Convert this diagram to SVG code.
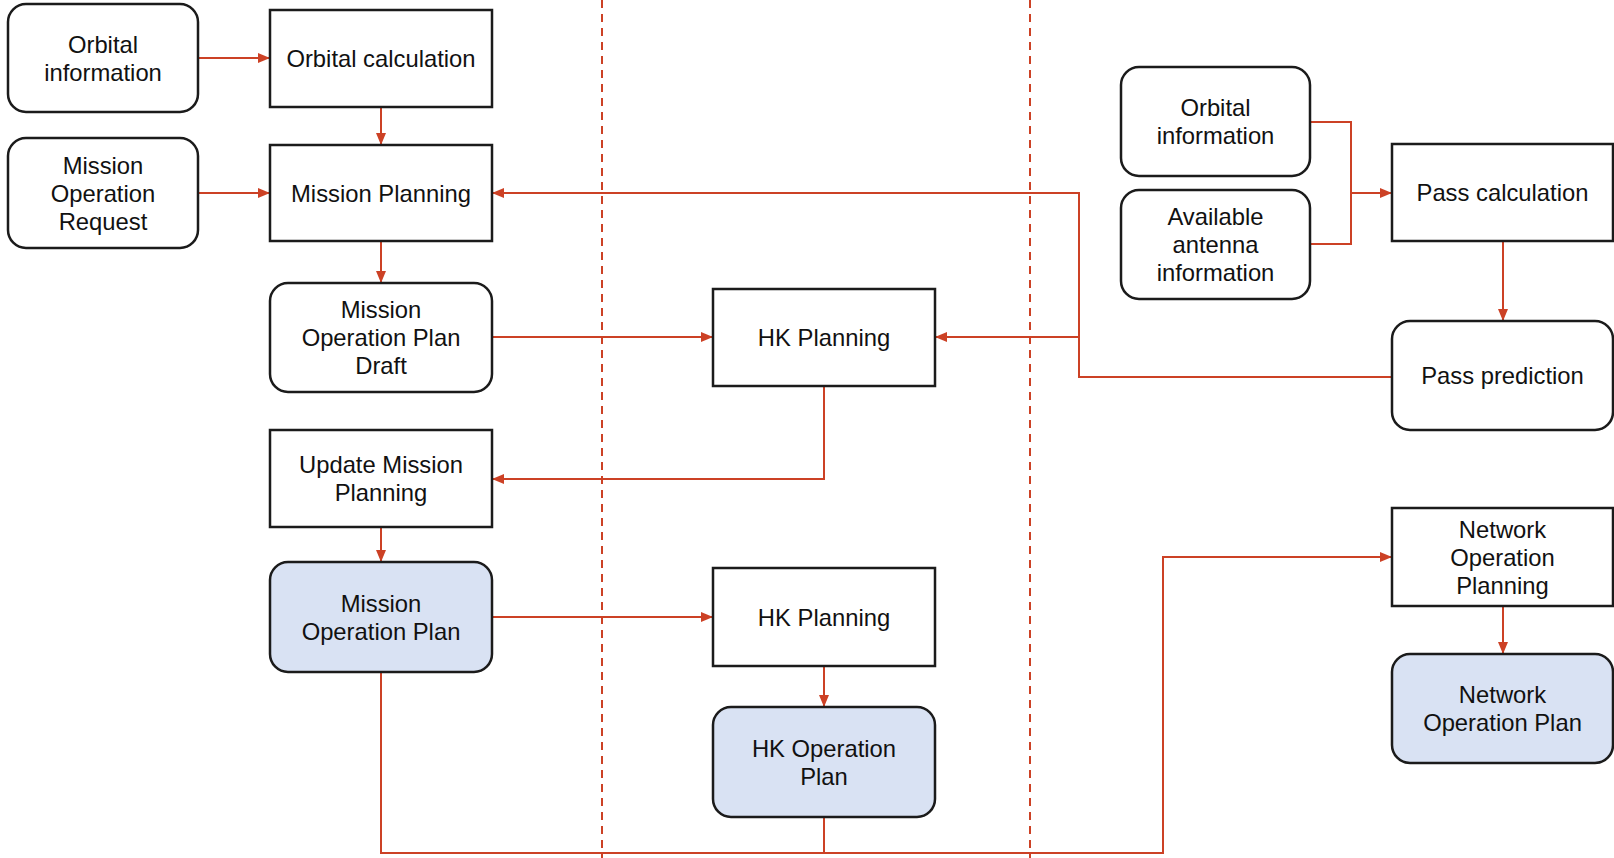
<svg xmlns="http://www.w3.org/2000/svg" width="1614" height="858" viewBox="0 0 1614 858">
<style>
.box{fill:#ffffff;stroke:#1b1b1b;stroke-width:2.5}
.plan{fill:#d9e2f3;stroke:#1b1b1b;stroke-width:2.5}
.t{font-family:"Liberation Sans",Arial,sans-serif;font-size:23.8px;fill:#111111;text-anchor:middle}
.c{fill:none;stroke:#cc4125;stroke-width:2}
.lane{fill:none;stroke:#cc4125;stroke-width:2;stroke-dasharray:8 6}
</style>
<defs>
<marker id="ah" markerUnits="userSpaceOnUse" markerWidth="13" markerHeight="11" refX="12" refY="5.5" orient="auto">
<path d="M0,0.5 L12,5.5 L0,10.5 Z" fill="#cc4125"/>
</marker>
</defs>
<rect width="1614" height="858" fill="#ffffff"/>
<g id="lanes">
<line class="lane" x1="602" y1="0" x2="602" y2="858"/>
<line class="lane" x1="1030" y1="0" x2="1030" y2="858"/>
</g>
<g id="connectors">
<path class="c" d="M198,58 H270" marker-end="url(#ah)"/>
<path class="c" d="M381,107 V145" marker-end="url(#ah)"/>
<path class="c" d="M198,193 H270" marker-end="url(#ah)"/>
<path class="c" d="M381,241 V283" marker-end="url(#ah)"/>
<path class="c" d="M492,337 H713" marker-end="url(#ah)"/>
<path class="c" d="M1392,377 H1079 V193 H492" marker-end="url(#ah)"/>
<path class="c" d="M1079,337 H935" marker-end="url(#ah)"/>
<path class="c" d="M824,386 V479 H492" marker-end="url(#ah)"/>
<path class="c" d="M381,527 V562" marker-end="url(#ah)"/>
<path class="c" d="M492,617 H713" marker-end="url(#ah)"/>
<path class="c" d="M824,666 V707" marker-end="url(#ah)"/>
<path class="c" d="M381,672 V853 H1163 V557 H1392" marker-end="url(#ah)"/>
<path class="c" d="M824,817 V853"/>
<path class="c" d="M1310,122 H1351 V244 H1310"/>
<path class="c" d="M1351,193 H1392" marker-end="url(#ah)"/>
<path class="c" d="M1503,241 V321" marker-end="url(#ah)"/>
<path class="c" d="M1503,606 V654" marker-end="url(#ah)"/>
</g>
<g id="orbital-info-1">
<rect class="box" x="8" y="4" width="190" height="108" rx="18"/>
<text class="t" x="103" y="52.5">Orbital</text>
<text class="t" x="103" y="80.5">information</text>
</g>
<g id="orbital-calc">
<rect class="box" x="270" y="10" width="222" height="97"/>
<text class="t" x="381" y="67">Orbital calculation</text>
</g>
<g id="mission-op-request">
<rect class="box" x="8" y="138" width="190" height="110" rx="18"/>
<text class="t" x="103" y="173.5">Mission</text>
<text class="t" x="103" y="201.5">Operation</text>
<text class="t" x="103" y="229.5">Request</text>
</g>
<g id="mission-planning">
<rect class="box" x="270" y="145" width="222" height="96"/>
<text class="t" x="381" y="201.5">Mission Planning</text>
</g>
<g id="mop-draft">
<rect class="box" x="270" y="283" width="222" height="109" rx="18"/>
<text class="t" x="381" y="318">Mission</text>
<text class="t" x="381" y="346">Operation Plan</text>
<text class="t" x="381" y="374">Draft</text>
</g>
<g id="hk-planning-1">
<rect class="box" x="713" y="289" width="222" height="97"/>
<text class="t" x="824" y="346">HK Planning</text>
</g>
<g id="update-mission-planning">
<rect class="box" x="270" y="430" width="222" height="97"/>
<text class="t" x="381" y="473">Update Mission</text>
<text class="t" x="381" y="501">Planning</text>
</g>
<g id="mission-op-plan">
<rect class="plan" x="270" y="562" width="222" height="110" rx="18"/>
<text class="t" x="381" y="611.5">Mission</text>
<text class="t" x="381" y="639.5">Operation Plan</text>
</g>
<g id="hk-planning-2">
<rect class="box" x="713" y="568" width="222" height="98"/>
<text class="t" x="824" y="625.5">HK Planning</text>
</g>
<g id="hk-op-plan">
<rect class="plan" x="713" y="707" width="222" height="110" rx="18"/>
<text class="t" x="824" y="756.5">HK Operation</text>
<text class="t" x="824" y="784.5">Plan</text>
</g>
<g id="orbital-info-2">
<rect class="box" x="1121" y="67" width="189" height="109" rx="18"/>
<text class="t" x="1215.5" y="116">Orbital</text>
<text class="t" x="1215.5" y="144">information</text>
</g>
<g id="antenna-info">
<rect class="box" x="1121" y="190" width="189" height="109" rx="18"/>
<text class="t" x="1215.5" y="225">Available</text>
<text class="t" x="1215.5" y="253">antenna</text>
<text class="t" x="1215.5" y="281">information</text>
</g>
<g id="pass-calc">
<rect class="box" x="1392" y="144" width="221" height="97"/>
<text class="t" x="1502.5" y="201">Pass calculation</text>
</g>
<g id="pass-prediction">
<rect class="box" x="1392" y="321" width="221" height="109" rx="18"/>
<text class="t" x="1502.5" y="384">Pass prediction</text>
</g>
<g id="network-op-planning">
<rect class="box" x="1392" y="508" width="221" height="98"/>
<text class="t" x="1502.5" y="537.5">Network</text>
<text class="t" x="1502.5" y="565.5">Operation</text>
<text class="t" x="1502.5" y="593.5">Planning</text>
</g>
<g id="network-op-plan">
<rect class="plan" x="1392" y="654" width="221" height="109" rx="18"/>
<text class="t" x="1502.5" y="703">Network</text>
<text class="t" x="1502.5" y="731">Operation Plan</text>
</g>
</svg>
